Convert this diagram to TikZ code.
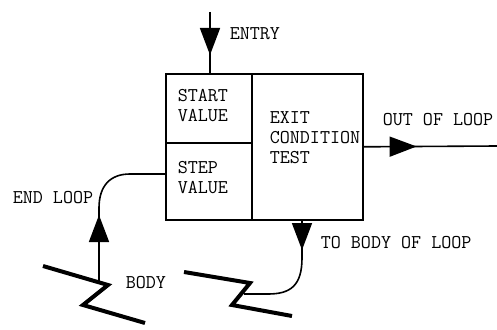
\documentclass[tikz,border=0pt]{standalone}
\usepackage{fontspec}
\usetikzlibrary{arrows.meta, positioning, calc, decorations.markings}

\begin{document}
\begin{tikzpicture}[
        x=1pt, y=-1pt,
        line width=1.6pt,
        cell/.style={
            rectangle,
            draw,
            anchor=north west,
            inner sep=0pt
        },
        caption/.style={
            anchor=west,
            inner sep=0pt,
            align=left,
            font=\ttfamily\fontsize{19.5}{20}\selectfont
        },
        arrowat/.style={
            postaction={decorate},
            decoration={markings, mark=at position #1 with {\arrow{Triangle[length=27pt, width=20pt]}}}
        },
        zigzag/.style={line width=4pt, miter limit=10}
    ]
        \useasboundingbox (0,0) rectangle (497,329);

        % the loop box
        \node[cell, minimum width=86pt, minimum height=69pt] (startbox) at (165,73) {};
        \node[cell, minimum width=86pt, minimum height=77pt] (stepbox) at (165,142) {};
        \node[cell, minimum width=111pt, minimum height=146pt] (exitbox) at (251,73) {};

        \node[caption] (starttext) at (177,106) {START\\VALUE};
        \node[caption] (steptext) at (177,178) {STEP\\VALUE};
        \node[caption] (exittext) at (269,138) {EXIT\\CONDITION\\TEST};

        % bodies of the loop
        \coordinate (bodyA1) at (43,266);
        \coordinate (bodyA2) at (108,285);
        \coordinate (bodyA3) at (83,305);
        \coordinate (bodyA4) at (145,323);
        \coordinate (bodyB1) at (184,272);
        \coordinate (bodyB2) at (250,283);
        \coordinate (bodyB3) at (232,305);
        \coordinate (bodyB4) at (292,316);
        \draw[zigzag] (bodyA1) -- (bodyA2) -- (bodyA3) -- (bodyA4);
        \draw[zigzag] (bodyB1) -- (bodyB2) -- (bodyB3) -- (bodyB4);

        % connectors
        \coordinate (entrytop) at (210,12);
        \coordinate (outend) at (497,146);
        \coordinate (endstart) at (99,282);
        \coordinate (bodyend) at (244,294);

        \draw[arrowat=43pt] (entrytop) -- (entrytop |- startbox.north);
        \draw[arrowat=53pt] (exitbox.east) -- (outend);
        \draw[arrowat=31pt] (302,219) -- (302,258) .. controls (302,286) and (290,294) .. (268,294) -- (bodyend);
        \draw[arrowat=67pt] (endstart) -- (99,208) .. controls (99,186) and (110,174) .. (130,174) -- (stepbox.west |- 0,174);

        % labels
        \node[caption] (entrylabel) at (229,34) {ENTRY};
        \node[caption] (outlabel) at (382,120) {OUT OF LOOP};
        \node[caption] (tobodylabel) at (320,243) {TO BODY OF LOOP};
        \node[caption] (endlabel) at (12,198) {END LOOP};
        \node[caption] (bodylabel) at (125,283) {BODY};
    \end{tikzpicture}
\end{document}
